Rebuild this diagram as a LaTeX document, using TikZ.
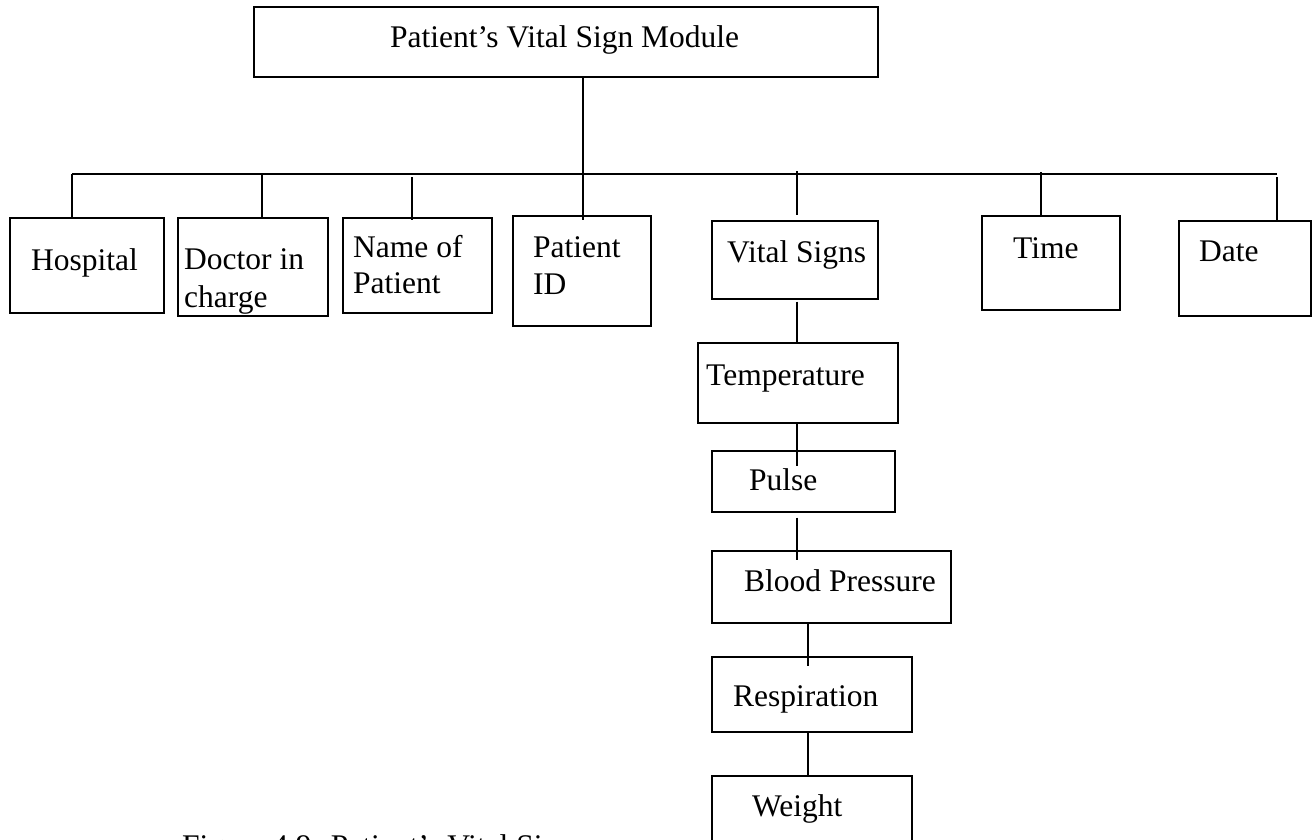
\documentclass[tikz,border=0pt]{standalone}
\usepackage{fontspec}
\setmainfont{Liberation Serif}
\usetikzlibrary{calc}
\begin{document}
\begin{tikzpicture}[x=1pt,y=-1pt,
  box/.style={draw, line width=1.3pt, inner sep=0pt},
  lbl/.style={inner sep=0pt, anchor=base west, font=\fontsize{31.5}{37}\selectfont},
  wire/.style={line width=1.3pt}]
\useasboundingbox (0,0) rectangle (1312,839);
\clip (0,0) rectangle (1312,839);

% boxes
\node[box, minimum width=624pt, minimum height=70pt]  (top)    at (566,42)    {};
\node[box, minimum width=154pt, minimum height=95pt]  (hosp)   at (87,265.5)  {};
\node[box, minimum width=150pt, minimum height=98pt]  (doc)    at (253,267)   {};
\node[box, minimum width=149pt, minimum height=95pt]  (name)   at (417.5,265.5) {};
\node[box, minimum width=138pt, minimum height=110pt] (pid)    at (582,271)   {};
\node[box, minimum width=166pt, minimum height=78pt]  (vital)  at (795,260)   {};
\node[box, minimum width=138pt, minimum height=94pt]  (time)   at (1051,263)  {};
\node[box, minimum width=132pt, minimum height=95pt]  (date)   at (1245,268.5) {};
\node[box, minimum width=200pt, minimum height=80pt]  (temp)   at (798,383)   {};
\node[box, minimum width=183pt, minimum height=61pt]  (pulse)  at (803.5,481.5) {};
\node[box, minimum width=239pt, minimum height=72pt]  (bp)     at (831.5,587) {};
\node[box, minimum width=200pt, minimum height=75pt]  (resp)   at (812,694.5) {};
\node[box, minimum width=200pt, minimum height=104pt] (weight) at (812,828)   {};

% texts
\node[lbl] (tTop)   at (390,47)   {Patient’s Vital Sign Module};
\node[lbl] (tHosp)  at (31,270)   {Hospital};
\node[lbl] (tDoc1)  at (184,269)  {Doctor in};
\node[lbl] (tDoc2)  at (184,307)  {charge};
\node[lbl] (tName1) at (353,257)  {Name of};
\node[lbl] (tName2) at (353,293)  {Patient};
\node[lbl] (tPid1)  at (533,257)  {Patient};
\node[lbl] (tPid2)  at (533,294)  {ID};
\node[lbl] (tVital) at (727,262)  {Vital Signs};
\node[lbl] (tTime)  at (1013,258) {Time};
\node[lbl] (tDate)  at (1199,261) {Date};
\node[lbl] (tTemp)  at (706,385)  {Temperature};
\node[lbl] (tPulse) at (749,490)  {Pulse};
\node[lbl] (tBp)    at (744,591)  {Blood Pressure};
\node[lbl] (tResp)  at (733,706)  {Respiration};
\node[lbl] (tWt)    at (752,816)  {Weight};
\node[lbl] (tCap)   at (182,856)  {Figure 4.9: Patient’s Vital Si};

% connector columns and the bus
\coordinate (bus) at (0,174);
\coordinate (cH)  at (72,0);
\coordinate (cD)  at (262,0);
\coordinate (cN)  at (412,0);
\coordinate (cP)  at (583,0);
\coordinate (cV)  at (797,0);
\coordinate (cT)  at (1041,0);
\coordinate (cDa) at (1277,0);
\coordinate (cC2) at (808,0);

\draw[wire] (cP |- top.south) -- ($(cP |- pid.north)+(0,5)$);
\draw[wire] (cH |- bus) -- (cDa |- bus);
\draw[wire] (cH |- bus) -- (cH |- hosp.north);
\draw[wire] (cD |- bus) -- (cD |- doc.north);
\draw[wire] ($(cN |- bus)+(0,3)$) -- ($(cN |- name.north)+(0,3)$);
\draw[wire] ($(cV |- bus)+(0,-3)$) -- ($(cV |- vital.north)+(0,-5)$);
\draw[wire] ($(cT |- bus)+(0,-2)$) -- (cT |- time.north);
\draw[wire] ($(cDa |- bus)+(0,3)$) -- (cDa |- date.north);

% vital signs chain
\draw[wire] ($(cV |- vital.south)+(0,2)$) -- (cV |- temp.north);
\draw[wire] (cV |- temp.south) -- ($(cV |- pulse.north)+(0,16)$);
\draw[wire] ($(cV |- pulse.south)+(0,5)$) -- ($(cV |- bp.north)+(0,10)$);
\draw[wire] (cC2 |- bp.south) -- ($(cC2 |- resp.north)+(0,10)$);
\draw[wire] (cC2 |- resp.south) -- (cC2 |- weight.north);
\end{tikzpicture}
\end{document}
